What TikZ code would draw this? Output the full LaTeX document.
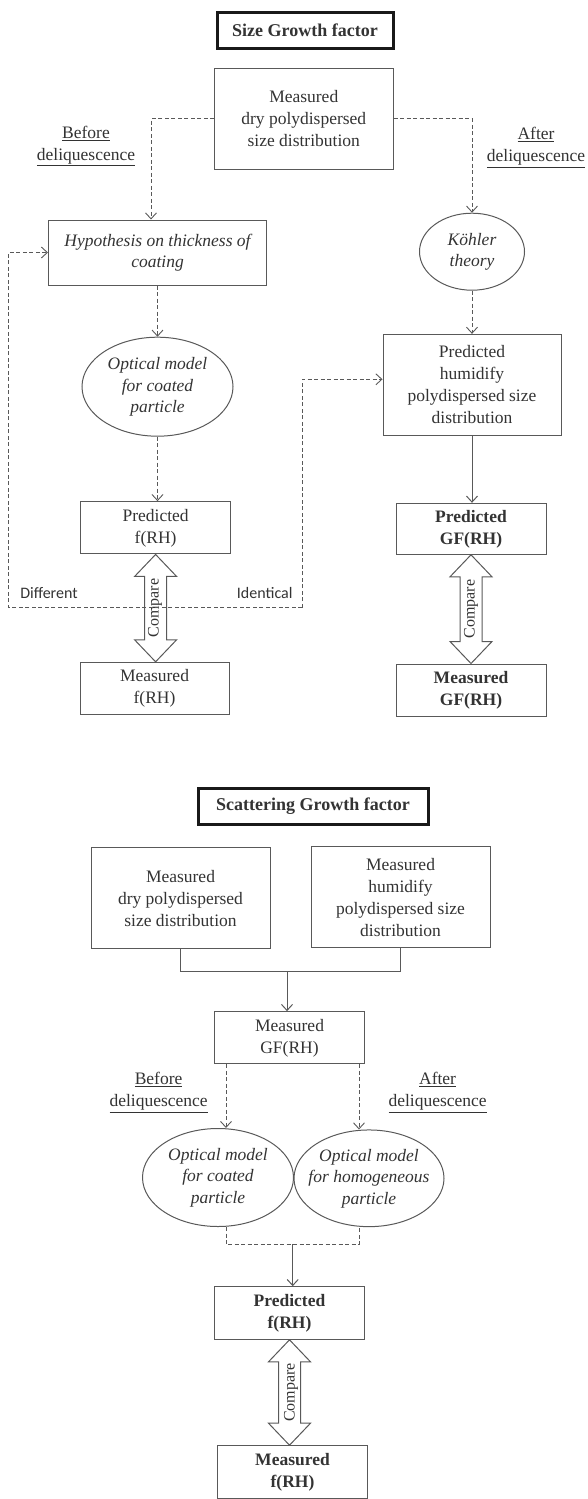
\documentclass[tikz,border=0pt]{standalone}
\usepackage{fontspec}
\setmainfont{Liberation Serif}
\newfontfamily\calib{Carlito}
\usetikzlibrary{arrows.meta,shapes.geometric,calc}
\newcommand\cmparrow[3]{%
 \draw[cmp] let \p1=(#1.south), \p2=(#2.north) in (\x1,\y1) -- (\x1-21pt,\y1-22pt) -- (\x1-11pt,\y1-22pt) -- (\x1-11pt,\y2+22pt) -- (\x1-21pt,\y2+22pt) -- (\x1,\y2) -- (\x1+21pt,\y2+22pt) -- (\x1+11pt,\y2+22pt) -- (\x1+11pt,\y1-22pt) -- (\x1+21pt,\y1-22pt) -- cycle;
 \node[rotate=90, font=\fontsize{16}{19}\selectfont] (#3) at ($(#1.south)!0.5!(#2.north)$) {Compare};}
\newcommand\ovaltext[1]{\makebox[0pt]{\begin{tabular}{@{}c@{}}#1\end{tabular}}}
\begin{document}
\begin{tikzpicture}[x=1pt,y=-1pt,
  every node/.style={text=black!80, inner sep=0pt},
  box/.style={draw=black!65, line width=1pt, align=center, font=\fontsize{17.5}{22}\selectfont},
  boldbox/.style={box, font=\fontsize{17.5}{22}\selectfont\bfseries},
  itbox/.style={box, font=\fontsize{17.5}{21}\selectfont\itshape},
  oval/.style={ellipse, draw=black!65, line width=1pt, font=\fontsize{17.5}{21.5}\selectfont\itshape},
  titlebox/.style={draw=black!90, line width=3pt, font=\fontsize{18}{22}\selectfont\bfseries},
  lab/.style={align=center, font=\fontsize{17.5}{22}\selectfont},
  side/.style={font=\calib\fontsize{16}{19}\selectfont},
  tip/.style={-{Straight Barb[length=6pt,width=11pt]}},
  dline/.style={draw=black!65, line width=0.9pt, dash pattern=on 4pt off 2.5pt},
  sline/.style={draw=black!65, line width=1pt},
  cmp/.style={draw=black!65, line width=1pt, fill=white}
]
\useasboundingbox (0,0) rectangle (588,1499);

% ---------- Size growth factor ----------
\node[titlebox, minimum width=176pt, minimum height=35.6pt] (t1) at (305,30.5) {Size Growth factor};
\node[box, minimum width=178.5pt, minimum height=101pt] (m1) at (303.75,118.8) {Measured\\dry polydispersed\\size distribution};
\node[lab] (bef1) at (86,146) {\underline{Before}\\\underline{deliquescence}};
\node[lab] (aft1) at (536,147.5) {\underline{After}\\\underline{deliquescence}};
\node[itbox, minimum width=218pt, minimum height=65pt] (hyp) at (157.5,252.5) {Hypothesis on thickness of\\coating};
\node[oval, minimum width=105pt, minimum height=77pt] (koh) at (472,251.7) {\ovaltext{Köhler\\theory}};
\node[oval, minimum width=151pt, minimum height=99pt] (op1) at (157.5,386.7) {\ovaltext{Optical model\\for coated\\particle}};
\node[box, minimum width=178pt, minimum height=100.7pt] (ph) at (472,384.7) {Predicted\\humidify\\polydispersed size\\distribution};
\node[box, minimum width=150pt, minimum height=52.3pt] (pf1) at (155.6,527.8) {Predicted\\f(RH)};
\node[box, minimum width=149pt, minimum height=52pt] (mf1) at (154.5,688.3) {Measured\\f(RH)};
\node[boldbox, minimum width=150pt, minimum height=51pt] (pg) at (471,528.8) {Predicted\\GF(RH)};
\node[boldbox, minimum width=150pt, minimum height=52pt] (mg) at (471,690) {Measured\\GF(RH)};
\node[side] (dif) at (49,593.3) {Different};
\node[side] (ide) at (264.7,593.3) {Identical};

\draw[dline, tip] (m1.west) -| ([xshift=-6.5pt]hyp.north);
\draw[dline, tip] (m1.east) -| (koh.north);
\draw[dline, tip] (hyp.south) -- (op1.north);
\draw[dline, tip] (op1.south) -- (op1.south |- pf1.north);
\draw[dline, tip] (koh.south) -- (ph.north);
\draw[sline, tip] (ph.south) -- (ph.south |- pg.north);
\cmparrow{pf1}{mf1}{c1}
\cmparrow{pg}{mg}{c2}
\coordinate (dl) at (8.5,607.7);
\coordinate (dr) at (302,607.7);
\draw[dline, tip] (dr) -- (dl) |- (hyp.west);
\draw[dline, tip] (dr) |- ([yshift=5.4pt]ph.west);

% ---------- Scattering growth factor ----------
\node[titlebox, minimum width=230pt, minimum height=36pt] (t2) at (313,806.3) {Scattering Growth factor};
\node[box, minimum width=179pt, minimum height=101pt] (md) at (180.5,898.2) {Measured\\dry polydispersed\\size distribution};
\node[box, minimum width=179pt, minimum height=100.7pt] (mh) at (400.5,897.3) {Measured\\humidify\\polydispersed size\\distribution};
\coordinate (j) at (287,971);
\node[box, minimum width=150pt, minimum height=52.3pt] (mgf) at (289.5,1037.8) {Measured\\GF(RH)};
\node[lab] (bef2) at (158.6,1092.5) {\underline{Before}\\\underline{deliquescence}};
\node[lab] (aft2) at (437.6,1092.5) {\underline{After}\\\underline{deliquescence}};
\node[oval, minimum width=151pt, minimum height=98pt] (oc) at (218,1177.5) {\ovaltext{Optical model\\for coated\\particle}};
\node[oval, minimum width=150pt, minimum height=96.7pt] (oh) at (369,1178.3) {\ovaltext{Optical model\\for homogeneous\\particle}};
\coordinate (k) at (292.7,1244.3);
\node[boldbox, minimum width=150pt, minimum height=52.6pt] (pf2) at (289.5,1313) {Predicted\\f(RH)};
\node[boldbox, minimum width=150pt, minimum height=52.6pt] (mf2) at (292.5,1472) {Measured\\f(RH)};

\draw[sline] (md.south) |- (j) -| (mh.south);
\draw[sline, tip] (j) -- (j |- mgf.north);
\coordinate (gl) at ([xshift=-63.5pt]mgf.south);
\coordinate (gr) at ([xshift=69.5pt]mgf.south);
\draw[dline, tip] (gl) -- (gl |- oc.north);
\draw[dline, tip] (gr) -- (gr |- oh.north);
\draw[dline] (gl |- oc.south) |- (k) -| (gr |- oh.south);
\draw[sline, tip] (k) -- (k |- pf2.north);
\cmparrow{pf2}{mf2}{c3}
\end{tikzpicture}
\end{document}
